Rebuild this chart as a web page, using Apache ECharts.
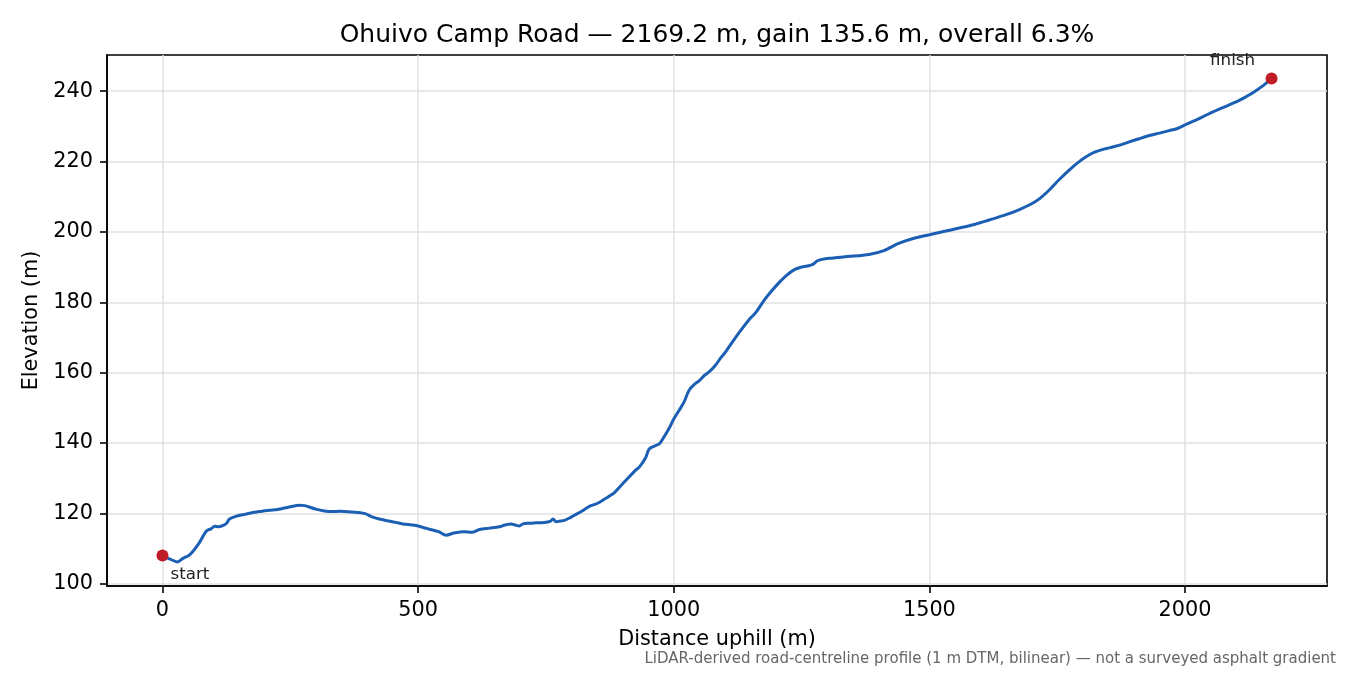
<!DOCTYPE html>
<html><head><meta charset="utf-8">
<script src="https://cdn.jsdelivr.net/npm/echarts@6/dist/echarts.min.js"></script>
<style>html,body{margin:0;padding:0;background:#fff}#c{width:1350px;height:675px}</style>
</head><body><div id="c"></div>
<script>
const titleText = 'Ohuivo Camp Road \u2014 2169.2 m, gain 135.6 m, overall 6.3%';
const footnote = 'LiDAR-derived road-centreline profile (1 m DTM, bilinear) \u2014 not a surveyed asphalt gradient';
const distance = [0,15,29,40,53,70,86,95,102,110,121,126,131,145,160,180,195,209,225,248,268,278,287,300,317,330,346,370,395,410,424,440,454,470,493,510,522,540,555,570,590,605,620,640,659,670,682,690,698,705,717,730,747,758,764,770,778,786,795,805,820,835,850,864,875,884,900,913,925,933,945,952,965,972,980,991,1000,1011,1020,1030,1040,1050,1060,1069,1080,1093,1100,1118,1130,1148,1160,1177,1190,1206,1220,1236,1250,1261,1272,1281,1290,1304,1340,1382,1411,1441,1470,1500,1530,1558,1590,1617,1650,1675,1700,1715,1735,1754,1775,1793,1808,1822,1838,1852,1870,1891,1910,1930,1950,1969,1985,1998,2020,2047,2075,2106,2120,2135,2150,2169.2];
const elevation = [108.0,107.0,106.2,107.2,108.2,111.2,115.0,115.6,116.3,116.2,116.7,117.3,118.4,119.2,119.7,120.3,120.6,120.9,121.1,121.8,122.3,122.2,121.8,121.2,120.7,120.5,120.6,120.4,120.0,119.0,118.4,117.9,117.5,117.0,116.6,116.0,115.5,114.8,113.8,114.4,114.8,114.6,115.4,115.8,116.2,116.7,117.0,116.7,116.4,117.0,117.2,117.3,117.4,117.7,118.4,117.6,117.8,118.0,118.6,119.4,120.6,122.0,122.8,124.0,125.0,125.9,128.4,130.4,132.2,133.2,135.8,138.3,139.3,139.8,141.5,144.2,146.8,149.4,151.6,155.0,156.6,157.7,159.2,160.2,161.8,164.4,165.6,169.4,171.8,175.2,177.0,180.6,183.0,185.6,187.6,189.3,190.0,190.3,190.8,191.8,192.2,192.5,193.0,193.6,194.7,196.8,198.2,199.2,200.2,201.1,202.2,203.4,204.9,206.3,208.0,209.4,212.0,214.9,217.8,220.0,221.5,222.6,223.4,223.9,224.6,225.6,226.5,227.4,228.1,228.8,229.4,230.3,231.7,233.6,235.4,237.4,238.5,239.8,241.3,243.6];
const xTicks = [0,500,1000,1500,2000];
const yTicks = [100,120,140,160,180,200,220,240];
const endpoints = [[0,108.0,'start'],[2169.2,243.6,'finish']];

const profile = distance.map((d,i)=>[d,elevation[i]]);
const font = 'DejaVu Sans';
const chart = echarts.init(document.getElementById('c'), null, {renderer:'canvas'});
chart.setOption({
  animation:false,
  backgroundColor:'#fff',
  graphic:[
    {type:'text',x:717,y:23,style:{text:titleText,fontFamily:font,fontSize:25,fill:'#000',align:'center',verticalAlign:'top'}},
    {type:'text',right:14,top:652,style:{text:footnote,fontFamily:font,fontSize:15,fill:'#666'}}
  ],
  grid:{left:107,right:23,top:55,bottom:89,show:true,borderColor:'#000',borderWidth:1.6,backgroundColor:'transparent'},
  xAxis:{type:'value',min:-108.46,max:2277.66,
    name:'Distance uphill (m)',nameLocation:'middle',nameGap:43,
    nameTextStyle:{fontFamily:font,fontSize:20.8,color:'#000'},
    axisLine:{show:true,onZero:false,lineStyle:{color:'#000',width:1.6}},
    axisTick:{show:true,length:7,lineStyle:{color:'#000',width:1.6},customValues:xTicks},
    axisLabel:{fontFamily:font,fontSize:20.8,color:'#000',margin:14,customValues:xTicks,formatter:v=>String(v)},
    splitLine:{show:true,lineStyle:{color:'#e2e2e2',width:1.5}}},
  yAxis:{type:'value',min:99.35,max:250.3,
    name:'Elevation (m)',nameLocation:'middle',nameGap:62,nameRotate:90,
    nameTextStyle:{fontFamily:font,fontSize:20.8,color:'#000'},
    axisLine:{show:true,onZero:false,lineStyle:{color:'#000',width:1.6}},
    axisTick:{show:true,length:7,lineStyle:{color:'#000',width:1.6},customValues:yTicks},
    axisLabel:{fontFamily:font,fontSize:20.8,color:'#000',margin:14,customValues:yTicks,formatter:v=>String(v)},
    splitLine:{show:true,lineStyle:{color:'#e2e2e2',width:1.5}}},
  series:[
    {type:'line',data:profile,showSymbol:false,smooth:0.3,lineStyle:{color:'#1a5fb4',width:3},z:2},
    {type:'scatter',data:endpoints.map(p=>({value:[p[0],p[1]],name:p[2],
        label:{show:true,formatter:p[2],fontFamily:font,fontSize:16.7,color:'#222',
          position:'inside',
          align:p[2]==='start'?'left':'center',verticalAlign:'middle',
          offset:p[2]==='start'?[8,19]:[-39,-18]}})),
      symbol:'circle',symbolSize:12,itemStyle:{color:'#c01c28',opacity:1},z:3}
  ]
});
</script></body></html>
